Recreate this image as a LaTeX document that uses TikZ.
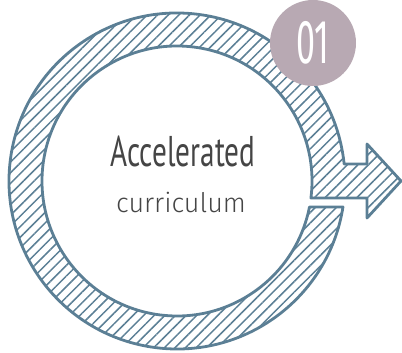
\documentclass[tikz,border=0pt]{standalone}
\usepackage{fontspec}
\usepackage{tikz}
\usetikzlibrary{patterns.meta, calc}
\newfontfamily\handfont[FakeStretch=0.68]{PT Sans}
\newfontfamily\numfont[FakeStretch=0.55]{Fira Sans}
\newfontfamily\curfont{Fira Sans Light}
\definecolor{ringBlue}{HTML}{5B7F95}
\definecolor{badgeMauve}{HTML}{B8A9B3}
\definecolor{txtGray}{HTML}{454545}
\tikzset{
  % hatched ring arrow
  ring/.style={draw=ringBlue, line width=2.8pt, line join=round,
    pattern={Lines[angle=45, distance=7.5pt, line width=1.5pt]},
    pattern color=ringBlue},
  % step number disc
  badge/.style={circle, fill=badgeMauve, minimum size=86pt, inner sep=0pt,
    text=white, font=\numfont\fontsize{62}{62}\selectfont},
  title/.style={text=txtGray, inner sep=0pt, anchor=base,
    font=\handfont\fontsize{43}{43}\selectfont},
  sub/.style={text=txtGray, inner sep=0pt, anchor=base,
    font=\curfont\fontsize{27}{27}\selectfont},
}
\begin{document}
\begin{tikzpicture}[x=1pt, y=1pt]
\useasboundingbox (0,0) rectangle (402,353);

\coordinate (ctr) at (177,172);

% ring with arrow head, gap at the right
\path[ring] ($(ctr)+(5.81:168)$) -- (367,189) -- (367,209) -- (401,172)
  -- (367,135) -- (367,155) -- ($(ctr)+(-7.23:135)$)
  arc[start angle=-7.23, end angle=348.88, radius=135]
  -- ($(ctr)+(351.1:168)$)
  arc[start angle=351.1, end angle=5.81, radius=168] -- cycle;

\node[badge] (num) at (313,310) {01};

\node[title] (head) at (183,186) {Accelerated};
\node[sub] (tag) at (181,140) {curriculum};

\end{tikzpicture}
\end{document}
